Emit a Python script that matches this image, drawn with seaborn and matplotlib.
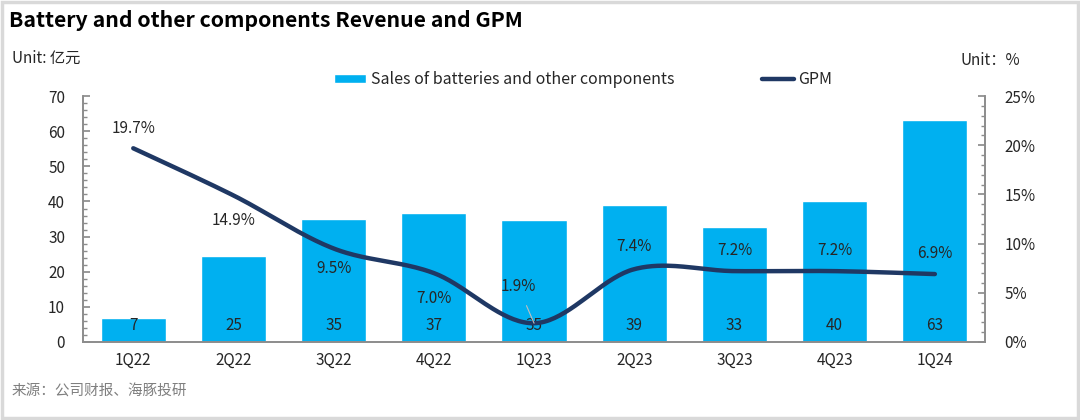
import numpy as np
import pandas as pd
import matplotlib
matplotlib.use("Agg")
import matplotlib.pyplot as plt
from matplotlib.ticker import MultipleLocator, FuncFormatter
from matplotlib.patches import Rectangle
import seaborn as sns

# Data
quarters = ["1Q22", "2Q22", "3Q22", "4Q22", "1Q23", "2Q23", "3Q23", "4Q23", "1Q24"]
sales = [6.8, 24.6, 35.1, 36.6, 34.7, 38.9, 32.7, 40.2, 63.1]
gpm = [19.7, 14.9, 9.5, 7.0, 1.9, 7.4, 7.2, 7.2, 6.9]
# vertical label offset (pixels) for GPM labels
gpm_label_dy = [20, -25, -20, -25, 37, 23, 21, 21, 21]

bar_color = "#00B0F0"
line_color = "#1F3864"
text_color = "#262626"
spine_color = "#8C8C8C"

sns.set_theme(style="white")
plt.rcParams["font.family"] = ["Noto Sans CJK SC", "DejaVu Sans"]


def smooth_curve(y, n=40):
    # Catmull-Rom style smoothing (like Excel's smoothed line), drawn only
    y = np.asarray(y, dtype=float)
    x = np.arange(len(y), dtype=float)
    pts = np.column_stack([x, y])
    ext = np.vstack([pts[0], pts, pts[-1]])
    out = []
    for i in range(len(pts) - 1):
        p0, p1, p2, p3 = ext[i], ext[i + 1], ext[i + 2], ext[i + 3]
        c1 = p1 + (p2 - p0) / 6
        c2 = p2 - (p3 - p1) / 6
        t = np.linspace(0, 1, n)[:, None]
        seg = ((1 - t) ** 3) * p1 + 3 * ((1 - t) ** 2) * t * c1 + 3 * (1 - t) * t ** 2 * c2 + t ** 3 * p2
        out.append(seg if i == 0 else seg[1:])
    return np.vstack(out)


df = pd.DataFrame({"quarter": quarters, "sales": sales, "gpm": gpm})

fig = plt.figure(figsize=(10.8, 4.2), dpi=100)
ax = fig.add_axes([0.077, 0.186, 0.835, 0.585])

sns.barplot(data=df, x="quarter", y="sales", color=bar_color, width=0.65,
            saturation=1, ax=ax, label="Sales of batteries and other components")
ax.set_xlim(-0.5, len(quarters) - 0.5)
ax.set_ylim(0, 70)
ax.yaxis.set_major_locator(MultipleLocator(10))
ax.yaxis.set_minor_locator(MultipleLocator(2))
ax.set_xlabel("")
ax.set_ylabel("")

for i, v in enumerate(sales):
    ax.text(i, 4.8, f"{v:.0f}", ha="center", va="center", fontsize=11, color=text_color)

ax2 = ax.twinx()
curve = smooth_curve(gpm)
sns.lineplot(x=curve[:, 0], y=curve[:, 1], sort=False, color=line_color,
             linewidth=3.2, ax=ax2, label="GPM")
ax2.set_ylim(0, 25)
ax2.yaxis.set_major_locator(MultipleLocator(5))
ax2.yaxis.set_minor_locator(MultipleLocator(1))
ax2.yaxis.set_major_formatter(FuncFormatter(lambda v, p: f"{v:.0f}%"))

for i, v in enumerate(gpm):
    if i == 4:
        ax2.annotate(f"{v:.1f}%", xy=(i, v), xytext=(-16, gpm_label_dy[i]),
                     textcoords="offset pixels", ha="center", va="center",
                     fontsize=11, color=text_color,
                     arrowprops=dict(arrowstyle="-", color="#BFBFBF", lw=0.8,
                                     shrinkA=6, shrinkB=0))
    else:
        ax2.annotate(f"{v:.1f}%", xy=(i, v), xytext=(0, gpm_label_dy[i]),
                     textcoords="offset pixels", ha="center", va="center",
                     fontsize=11, color=text_color)

for a in (ax, ax2):
    a.spines["top"].set_visible(False)
    for s in ("left", "right", "bottom"):
        a.spines[s].set_color(spine_color)
        a.spines[s].set_linewidth(1.2)
    a.grid(False)

ax.tick_params(axis="y", which="both", direction="in", left=True, colors=spine_color,
               labelcolor=text_color, labelsize=11, pad=13)
ax.tick_params(axis="y", which="major", length=5)
ax.tick_params(axis="y", which="minor", length=3)
ax.tick_params(axis="x", length=0, labelsize=11, labelcolor=text_color, pad=7)
ax2.tick_params(axis="y", which="both", direction="in", right=True, colors=spine_color,
                labelcolor=text_color, labelsize=11, pad=14)
ax2.tick_params(axis="y", which="major", length=5)
ax2.tick_params(axis="y", which="minor", length=3)
ax2.set_ylabel("")

# legend
h1, l1 = ax.get_legend_handles_labels()
h2, l2 = ax2.get_legend_handles_labels()
if ax2.get_legend():
    ax2.get_legend().remove()
if ax.get_legend():
    ax.get_legend().remove()
fig.legend(h1 + h2, l1 + l2, loc="center", bbox_to_anchor=(0.54, 0.81), ncol=2,
           frameon=False, fontsize=11.5, columnspacing=5.5, handlelength=2.0,
           handleheight=0.5, handletextpad=0.3, labelcolor=text_color)

fig.text(0.008, 0.952, "Battery and other components Revenue and GPM", fontsize=15.3,
         fontweight="bold", color="#000000", va="center")
fig.text(0.011, 0.862, "Unit: 亿元", fontsize=11, color=text_color, va="center")
fig.text(0.889, 0.857, "Unit：%", fontsize=11, color=text_color, va="center")
fig.text(0.011, 0.067, "来源：公司财报、海豚投研", fontsize=10.5, color="#7F7F7F", va="center")

fig.patches.append(Rectangle((0.002, 0.004), 0.996, 0.992, transform=fig.transFigure,
                             fill=False, edgecolor="#D9D9D9", linewidth=2.5))

fig.savefig("out.png", dpi=100)
